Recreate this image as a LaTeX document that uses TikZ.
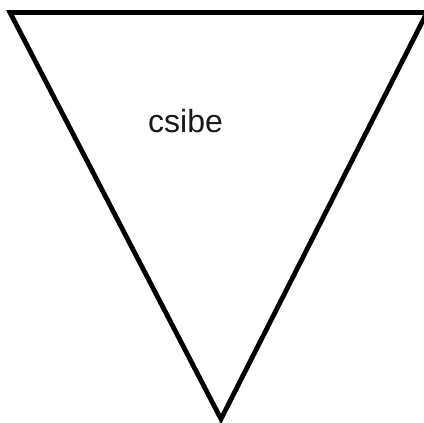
\documentclass[tikz,border=0pt]{standalone}
\usepackage{fontspec}
\setmainfont{Liberation Sans}
\begin{document}
\begin{tikzpicture}[x=1pt,y=-1pt,
  tri/.style={draw=black,line width=4.8pt,line join=miter},
  lbl/.style={font=\fontsize{32}{38}\selectfont,inner sep=0pt,text=black!90}]
\useasboundingbox (0,0) rectangle (424,423);
\coordinate (tl) at (10,12.5);
\coordinate (tr) at (427,12.5);
\coordinate (bt) at (221,419);
\draw[tri] (tl) -- (tr) -- (bt) -- cycle;
\node[lbl] (t) at (185.5,121) {csibe};
\end{tikzpicture}
\end{document}
